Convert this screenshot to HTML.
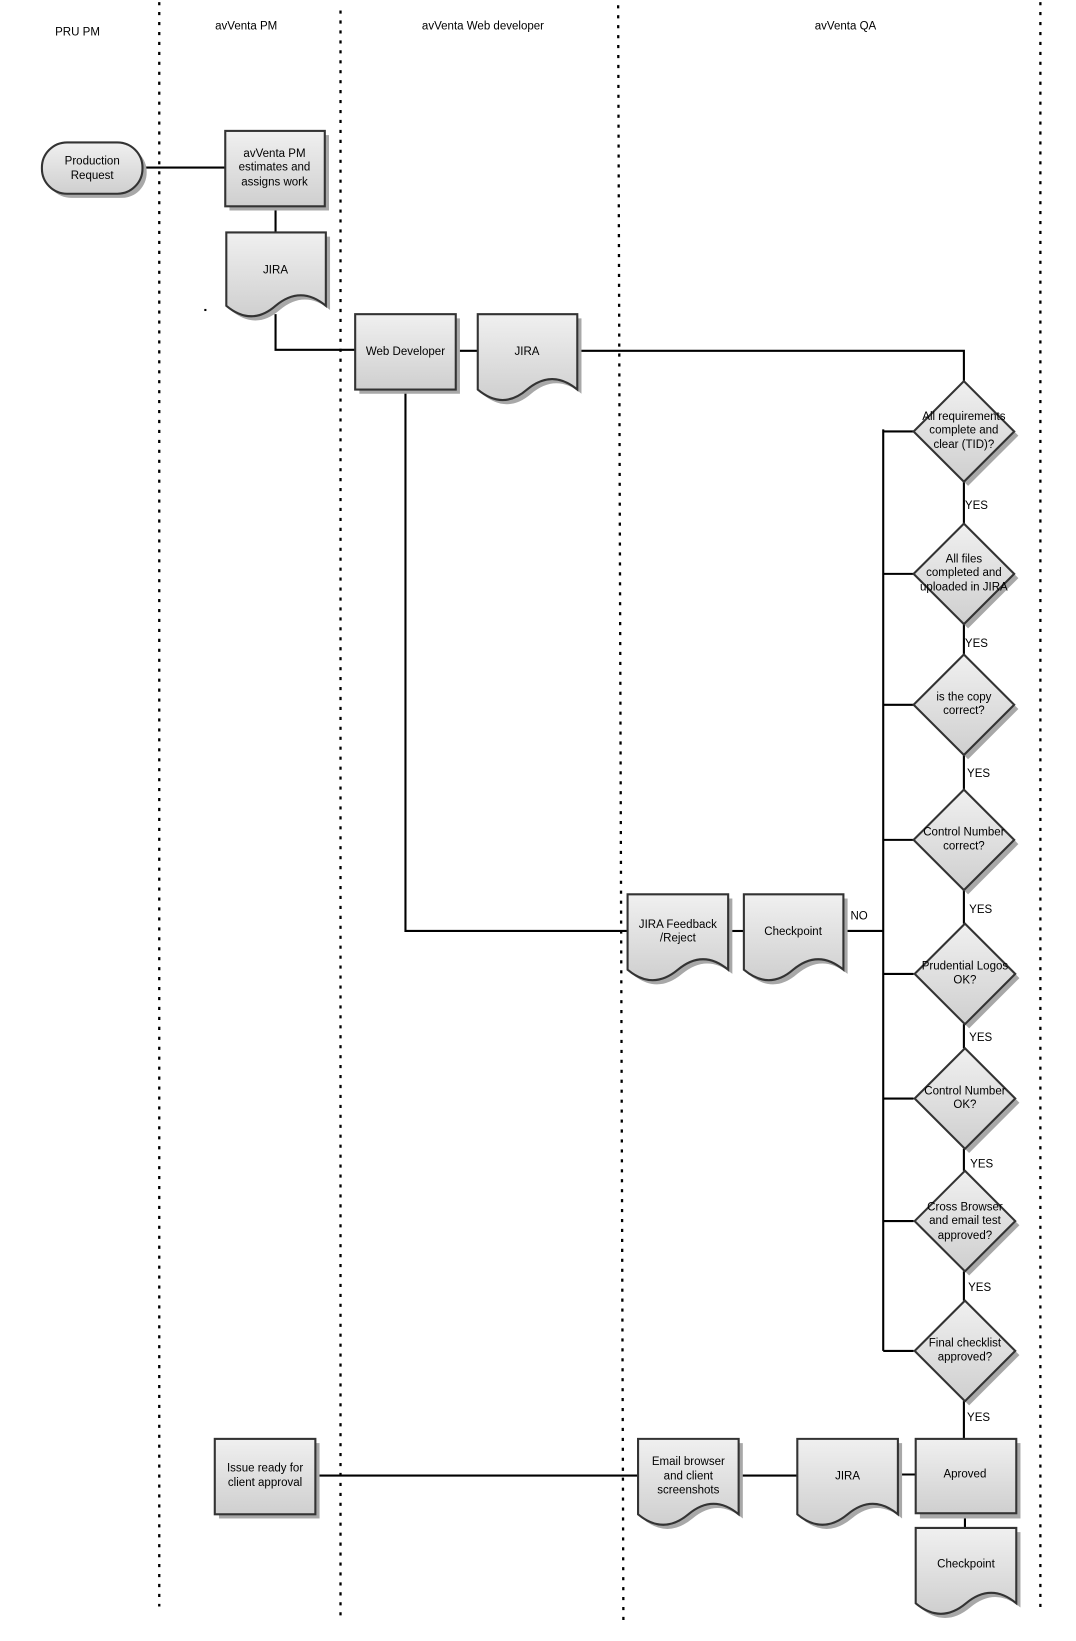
<!DOCTYPE html>
<html><head><meta charset="utf-8"><style>
html,body{margin:0;padding:0;background:#fff;}
svg{display:block;}
text{font-family:"Liberation Sans",sans-serif;font-size:11px;fill:#000;text-anchor:middle;}
.ln{stroke:#000;stroke-width:2;fill:none;}
.dl{stroke:#000;stroke-width:2.2;stroke-dasharray:3 6.5;fill:none;}
.sh{fill:#a8a8a8;}
.sp{fill:url(#g);stroke:#333;stroke-width:2;}
</style></head><body>
<svg width="1076" height="1641" viewBox="0 0 1027 1567" preserveAspectRatio="none" xmlns="http://www.w3.org/2000/svg">
<defs><linearGradient id="g" x1="0" y1="0" x2="0" y2="1"><stop offset="0" stop-color="#f0f0f0"/><stop offset="1" stop-color="#cfcfcf"/></linearGradient></defs>

<line class="dl" x1="152" y1="2" x2="152" y2="1534"/>
<line class="dl" x1="325" y1="10" x2="325" y2="1548"/>
<line class="dl" x1="590" y1="5" x2="595" y2="1548"/>
<line class="dl" x1="993" y1="2" x2="993" y2="1540"/>

<text x="74" y="34">PRU PM</text>
<text x="235" y="28">avVenta PM</text>
<text x="461" y="28">avVenta Web developer</text>
<text x="807" y="28">avVenta QA</text>

<path class="ln" d="M136 160 H215"/>
<path class="ln" d="M263 197 V222"/>
<path class="ln" d="M263 300 V334 H339"/>
<path class="ln" d="M435 335 H456"/>
<path class="ln" d="M551 335 H920 V364"/>
<path class="ln" d="M387 372 V889 H599"/>
<path class="ln" d="M695 889 H710"/>
<path class="ln" d="M805 889 H843"/>
<path class="ln" d="M843 410 V1290"/>
<path class="ln" d="M843 412 H872 M843 548 H872 M843 673 H872 M843 802 H872 M843 930 H872 M843 1049 H872 M843 1166 H872 M843 1290 H872"/>
<path class="ln" d="M920 460 V500 M920 596 V625 M920 721 V754 M920 850 V882 M920 978 V1001 M920 1097 V1118 M920 1214 V1242 M920 1338 V1374"/>
<path class="ln" d="M301 1409 H609"/>
<path class="ln" d="M705 1409 H761"/>
<path class="ln" d="M857 1408 H874"/>
<path class="ln" d="M921 1445 V1459"/>

<rect class="sh" x="44" y="140" width="96" height="49" rx="24"/>
<rect class="sp" x="40" y="136" width="96" height="49" rx="24"/>
<text x="88" y="157">Production</text><text x="88" y="171">Request</text>

<rect class="sh" x="219" y="129" width="95" height="72"/>
<rect class="sp" x="215" y="125" width="95" height="72"/>
<text x="262" y="150">avVenta PM</text><text x="262" y="163">estimates and</text><text x="262" y="177">assigns work</text>

<path class="sh" transform="translate(4,4)" d="M216 222 H311 V292 Q287 272 263 292 Q240 312 216 292 Z"/>
<path class="sp" d="M216 222 H311 V292 Q287 272 263 292 Q240 312 216 292 Z"/>
<text x="263" y="261">JIRA</text>
<rect x="195" y="295" width="2" height="2" fill="#000"/>

<rect class="sh" x="343" y="304" width="96" height="72"/>
<rect class="sp" x="339" y="300" width="96" height="72"/>
<text x="387" y="339">Web Developer</text>

<path class="sh" transform="translate(4,4)" d="M456 300 H551 V372 Q527 352 503 372 Q480 392 456 372 Z"/>
<path class="sp" d="M456 300 H551 V372 Q527 352 503 372 Q480 392 456 372 Z"/>
<text x="503" y="339">JIRA</text>

<path class="sh" transform="translate(4,4)" d="M599 854 H695 V926 Q671 906 647 926 Q623 946 599 926 Z"/>
<path class="sp" d="M599 854 H695 V926 Q671 906 647 926 Q623 946 599 926 Z"/>
<text x="647" y="886">JIRA Feedback</text><text x="647" y="899">/Reject</text>

<path class="sh" transform="translate(4,4)" d="M710 854 H805 V926 Q781 906 757 926 Q734 946 710 926 Z"/>
<path class="sp" d="M710 854 H805 V926 Q781 906 757 926 Q734 946 710 926 Z"/>
<text x="757" y="893">Checkpoint</text>
<text x="820" y="878">NO</text>

<g>
<polygon class="sh" points="924,368 972,416 924,464 876,416"/><polygon class="sp" points="920,364 968,412 920,460 872,412"/>
<text x="920" y="401">All requirements</text><text x="920" y="414">complete and</text><text x="920" y="428">clear (TID)?</text>

<polygon class="sh" points="924,504 972,552 924,600 876,552"/><polygon class="sp" points="920,500 968,548 920,596 872,548"/>
<text x="920" y="537">All files</text><text x="920" y="550">completed and</text><text x="920" y="564">uploaded in JIRA</text>

<polygon class="sh" points="924,629 972,677 924,725 876,677"/><polygon class="sp" points="920,625 968,673 920,721 872,673"/>
<text x="920" y="669">is the copy</text><text x="920" y="682">correct?</text>

<polygon class="sh" points="924,758 972,806 924,854 876,806"/><polygon class="sp" points="920,754 968,802 920,850 872,802"/>
<text x="920" y="798">Control Number</text><text x="920" y="811">correct?</text>

<polygon class="sh" points="925,886 973,934 925,982 877,934"/><polygon class="sp" points="921,882 969,930 921,978 873,930"/>
<text x="921" y="926">Prudential Logos</text><text x="921" y="939">OK?</text>

<polygon class="sh" points="925,1005 973,1053 925,1101 877,1053"/><polygon class="sp" points="921,1001 969,1049 921,1097 873,1049"/>
<text x="921" y="1045">Control Number</text><text x="921" y="1058">OK?</text>

<polygon class="sh" points="925,1122 973,1170 925,1218 877,1170"/><polygon class="sp" points="921,1118 969,1166 921,1214 873,1166"/>
<text x="921" y="1156">Cross Browser</text><text x="921" y="1169">and email test</text><text x="921" y="1183">approved?</text>

<polygon class="sh" points="925,1246 973,1294 925,1342 877,1294"/><polygon class="sp" points="921,1242 969,1290 921,1338 873,1290"/>
<text x="921" y="1286">Final checklist</text><text x="921" y="1299">approved?</text>
</g>

<g>
<text x="921" y="486" style="text-anchor:start">YES</text>
<text x="921" y="618" style="text-anchor:start">YES</text>
<text x="923" y="742" style="text-anchor:start">YES</text>
<text x="925" y="872" style="text-anchor:start">YES</text>
<text x="925" y="994" style="text-anchor:start">YES</text>
<text x="926" y="1115" style="text-anchor:start">YES</text>
<text x="924" y="1233" style="text-anchor:start">YES</text>
<text x="923" y="1357" style="text-anchor:start">YES</text>
</g>

<rect class="sh" x="209" y="1378" width="96" height="72"/>
<rect class="sp" x="205" y="1374" width="96" height="72"/>
<text x="253" y="1405">Issue ready for</text><text x="253" y="1419">client approval</text>

<path class="sh" transform="translate(4,4)" d="M609 1374 H705 V1446 Q681 1426 657 1446 Q633 1466 609 1446 Z"/>
<path class="sp" d="M609 1374 H705 V1446 Q681 1426 657 1446 Q633 1466 609 1446 Z"/>
<text x="657" y="1399">Email browser</text><text x="657" y="1413">and client</text><text x="657" y="1426">screenshots</text>

<path class="sh" transform="translate(4,4)" d="M761 1374 H857 V1446 Q833 1426 809 1446 Q785 1466 761 1446 Z"/>
<path class="sp" d="M761 1374 H857 V1446 Q833 1426 809 1446 Q785 1466 761 1446 Z"/>
<text x="809" y="1413">JIRA</text>

<rect class="sh" x="878" y="1378" width="96" height="72"/>
<rect class="sp" x="874" y="1374" width="96" height="71"/>
<text x="921" y="1411">Aproved</text>

<path class="sh" transform="translate(4,4)" d="M874 1459 H970 V1531 Q946 1511 922 1531 Q898 1551 874 1531 Z"/>
<path class="sp" d="M874 1459 H970 V1531 Q946 1511 922 1531 Q898 1551 874 1531 Z"/>
<text x="922" y="1497">Checkpoint</text>
</svg>
</body></html>
